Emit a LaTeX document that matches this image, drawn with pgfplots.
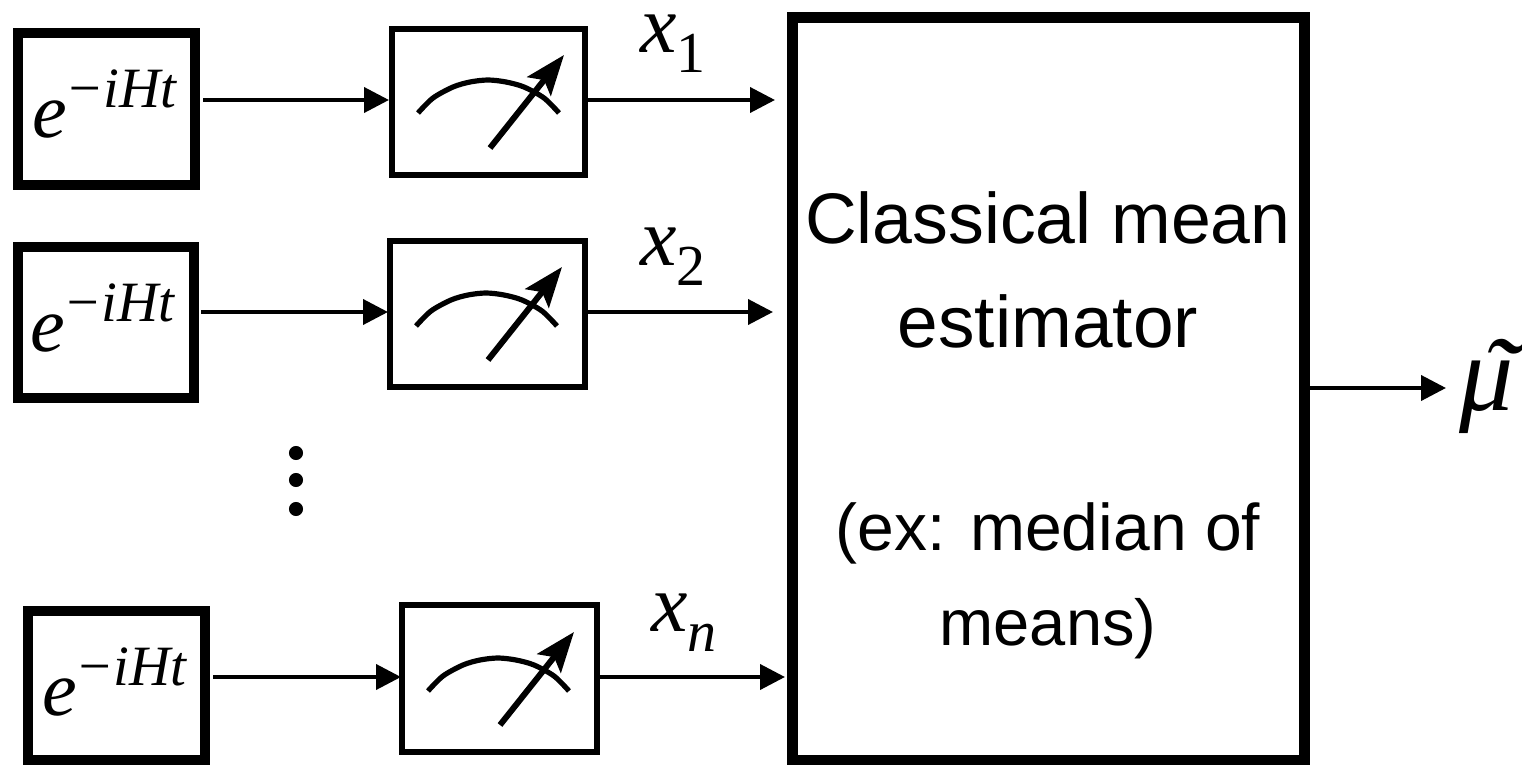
\documentclass[border=0pt]{standalone}
\usepackage{pgfplots}
\usepackage{fontspec}
\setmainfont{Liberation Sans}
\newfontfamily\mathserif{Liberation Serif}
\pgfplotsset{compat=1.18}
\usetikzlibrary{arrows.meta}
% pixel coordinates of the reference, 1 px = 0.5pt
\pgfplotsset{
  box/.style={black,line cap=rect,line join=miter,forget plot},
  unitbox/.style={box,line width=5pt},
  meter/.style={box,line width=3pt},
  wire/.style={black,line width=2pt,-{Triangle[length=12.5pt,width=12.5pt]}},
  needle/.style={black,line width=3pt,-{Stealth[length=20pt,width=15pt,inset=4pt]}},
  dial/.style={black,line width=2.6pt,smooth},
}
\newcommand{\expo}{{\mathserif\itshape e\raisebox{15pt}{\kern-1pt\fontsize{28.5}{28.5}\selectfont −iHt}}}
\newcommand{\sub}[1]{\raisebox{-10pt}{\fontsize{29}{29}\selectfont #1}}
\begin{document}
\begin{tikzpicture}
\useasboundingbox (0,0) rectangle (761pt,382.5pt);
\begin{axis}[
  scale only axis,width=761pt,height=382.5pt,
  xmin=0,xmax=1522,ymin=0,ymax=765,y dir=reverse,
  axis lines=none,clip=false,
]
% unitaries
\addplot[unitbox] coordinates {(18,33) (195,33) (195,185) (18,185) (18,33)};
\addplot[unitbox] coordinates {(18,247) (194,247) (194,398) (18,398) (18,247)};
\addplot[unitbox] coordinates {(28,611) (205,611) (205,760) (28,760) (28,611)};
% meters
\addplot[meter] coordinates {(392,29) (585,29) (585,175) (392,175) (392,29)};
\addplot[meter] coordinates {(390,241) (585,241) (585,387) (390,387) (390,241)};
\addplot[meter] coordinates {(402,605) (597,605) (597,752) (402,752) (402,605)};
% estimator
\addplot[box,line width=5.5pt] coordinates {(792,18) (1304,18) (1304,760) (792,760) (792,18)};
% wires
\addplot[wire] coordinates {(203,100) (389,100)};
\addplot[wire] coordinates {(588,100) (775,100)};
\addplot[wire] coordinates {(201,312) (388,312)};
\addplot[wire] coordinates {(587,312) (773,312)};
\addplot[wire] coordinates {(213,677) (401,677)};
\addplot[wire] coordinates {(598,677) (785,677)};
\addplot[wire] coordinates {(1308,388) (1446,388)};
% dials
\addplot[dial] coordinates {(418,113) (433,98) (453,87) (470,82) (488,80) (506,82) (524,87) (544,98) (559,113)};
\addplot[dial] coordinates {(416,326) (431,311) (451,300) (468,295) (486,293) (504,295) (522,300) (542,311) (557,326)};
\addplot[dial] coordinates {(428,691) (443,676) (463,665) (480,660) (498,658) (516,660) (534,665) (554,676) (569,691)};
\addplot[needle] coordinates {(490,148) (564,55)};
\addplot[needle] coordinates {(488,360) (562,267)};
\addplot[needle] coordinates {(500,725) (574,632)};
% vdots
\addplot[only marks,mark=*,mark size=3.3pt,black] coordinates {(296,453) (296,480) (296,509)};
% labels
\node[anchor=base west,inner sep=0pt,font=\fontsize{39}{39}\selectfont] at (axis cs:32,138) {\expo};
\node[anchor=base west,inner sep=0pt,font=\fontsize{39}{39}\selectfont] at (axis cs:30,351) {\expo};
\node[anchor=base west,inner sep=0pt,font=\fontsize{39}{39}\selectfont] at (axis cs:42,715) {\expo};
\node[anchor=base west,inner sep=0pt,font=\fontsize{41}{41}\selectfont\mathserif\itshape] at (axis cs:640,53) {x\sub{\upshape 1}};
\node[anchor=base west,inner sep=0pt,font=\fontsize{41}{41}\selectfont\mathserif\itshape] at (axis cs:640,265) {x\sub{\upshape 2}};
\node[anchor=base west,inner sep=0pt,font=\fontsize{41}{41}\selectfont\mathserif\itshape] at (axis cs:651,631) {x\sub{n}};
\node[font=\fontsize{35.8}{35.8}\selectfont,anchor=base] at (axis cs:1048,243) {Classical mean};
\node[font=\fontsize{36.5}{36.5}\selectfont,anchor=base] at (axis cs:1048,347) {estimator};
\node[font=\fontsize{33}{33}\selectfont,anchor=base] at (axis cs:1048,550) {(ex: median of};
\node[font=\fontsize{32.5}{32.5}\selectfont,anchor=base] at (axis cs:1048,645) {means)};
\node[anchor=base west,inner sep=0pt,font=\fontsize{54}{54}\selectfont\mathserif\itshape] at (axis cs:1459,410) {μ};
\node[anchor=base,inner sep=0pt,font=\fontsize{58}{58}\selectfont\mathserif\itshape] at (axis cs:1501,417) {\symbol{"02DC}};
\end{axis}
\end{tikzpicture}
\end{document}
